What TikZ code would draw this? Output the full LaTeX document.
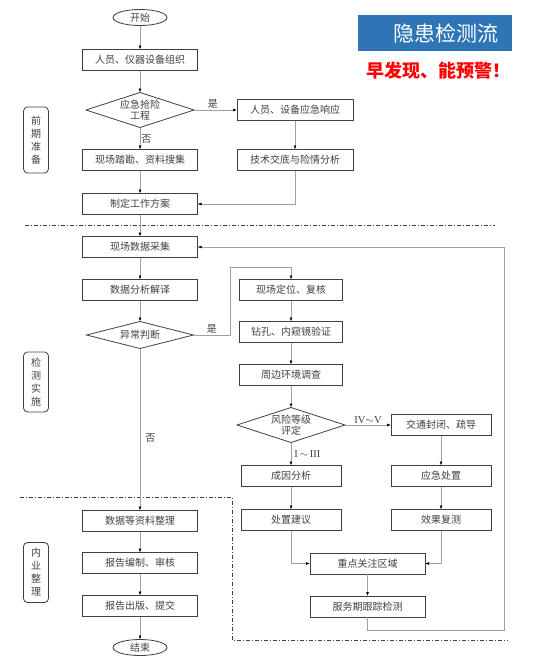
\documentclass[tikz,border=0pt]{standalone}
\usepackage{fontspec}
\setmainfont{Noto Sans CJK SC}
\newfontfamily\serifnum{Liberation Serif}
\usepackage{xcolor}
\usetikzlibrary{arrows.meta,positioning,shapes.geometric}
\definecolor{boxline}{HTML}{404040}
\definecolor{linkgray}{HTML}{A0A0A0}
\definecolor{titleblue}{HTML}{2E75B6}

\begin{document}
\begin{tikzpicture}[x=1pt, y=-1pt, font=\fontsize{10}{12}\selectfont, >=Latex, text=boxline,
  box/.style={draw=boxline, line width=0.8pt, outer sep=0pt, minimum height=21pt, inner xsep=2pt, inner ysep=0pt, text height=8.5pt, text depth=1.5pt},
  dia/.style={draw=boxline, line width=0.8pt, outer sep=0pt, diamond, aspect=3, inner sep=0pt, align=center, font=\fontsize{10}{11}\selectfont},
  term/.style={draw=boxline, ellipse, line width=0.8pt, outer sep=0pt, minimum width=54pt, minimum height=16pt, inner sep=0pt, text height=8.5pt, text depth=1.5pt},
  sidebox/.style={draw=boxline, rounded corners=4pt, line width=0.8pt, minimum width=25pt, align=center, font=\fontsize{10}{13}\selectfont},
  link/.style={draw=linkgray, line width=0.6pt, -{Latex[length=4pt, width=3pt, color=black]}},
  cutline/.style={draw=boxline, line width=0.9pt, dash pattern=on 4pt off 2pt on 1pt off 2pt},
  lab/.style={inner sep=1pt},
  numlab/.style={inner sep=1pt, font=\serifnum\fontsize{10.5}{12}\selectfont}]
  \useasboundingbox (0,0) rectangle (554,664);

  % Title
  \node[fill=titleblue, text=white, minimum height=36pt, text width=126pt, inner xsep=14pt, align=right, font=\fontsize{21}{23}\selectfont] (title) at (435,33) {隐患检测流};
  \node[text=red, font=\bfseries\fontsize{18}{20}\selectfont] (slogan) at (438.5,71) {早发现、能预警！};

  % Stages
  \node[sidebox, minimum height=66pt] (prep) at (36,140) {前\\期\\准\\备};
  \node[sidebox, minimum height=60pt] (exec) at (36,382) {检\\测\\实\\施};
  \node[sidebox, minimum height=60pt] (office) at (36,572.5) {内\\业\\整\\理};

  % Main column
  \node[term] (start) at (140,17.5) {开始};
  \node[box, minimum width=115pt, below=24pt of start] (org) {人员、仪器设备组织};
  \node[dia, minimum width=108pt, minimum height=35pt, below=22pt of org] (q1) {应急抢险\\工程};
  \node[box, minimum width=115pt, below=22pt of q1] (survey) {现场踏勘、资料搜集};
  \node[box, minimum width=115pt, below=23pt of survey] (plan) {制定工作方案};
  \node[box, minimum width=115pt, below=22pt of plan] (collect) {现场数据采集};
  \node[box, minimum width=115pt, below=22pt of collect] (interp) {数据分析解译};
  \node[dia, minimum width=107pt, minimum height=27pt, below=21pt of interp] (q2) {异常判断};
  \node[box, minimum width=115pt, below=162pt of q2] (sort) {数据等资料整理};
  \node[box, minimum width=115pt, below=21pt of sort] (draft) {报告编制、审核};
  \node[box, minimum width=115pt, below=22pt of draft] (issue) {报告出版、提交};
  \node[term, below=23pt of issue] (stop) {结束};

  % Emergency branch
  \node[box, minimum width=116pt, right=43pt of q1] (resp) {人员、设备应急响应};
  \node[box, minimum width=116pt, below=29pt of resp] (brief) {技术交底与险情分析};

  % Anomaly branch
  \node[box, minimum width=103pt, right=42pt of interp] (locate) {现场定位、复核};
  \node[box, minimum width=103pt, below=21pt of locate] (drill) {钻孔、内窥镜验证};
  \node[box, minimum width=103pt, below=22pt of drill] (env) {周边环境调查};
  \node[dia, minimum width=108pt, minimum height=35pt, below=22pt of env] (q3) {风险等级\\评定};
  \node[box, minimum width=100pt, below=23pt of q3] (cause) {成因分析};
  \node[box, minimum width=100pt, below=23pt of cause] (advise) {处置建议};
  \node[box, minimum width=100pt, right=46pt of q3] (traffic) {交通封闭、疏导};
  \node[box, minimum width=100pt, below=30pt of traffic] (emerg) {应急处置};
  \node[box, minimum width=100pt, below=23pt of emerg] (effect) {效果复测};
  \node[box, minimum width=115pt] (focus) at (367.5,563.5) {重点关注区域};
  \node[box, minimum width=115pt, below=22pt of focus] (track) {服务期跟踪检测};

  % Separators
  \draw[cutline] (25,225.7) -- (495,225.7);
  \draw[cutline] (20,497) -- (232,497) -- (232,640) -- (508,640);

  % Arrows
  \coordinate (k1) at (230,267.7);
  \coordinate (k2) at (504,630);
  \draw[link] (start) -- (org);
  \draw[link] (org) -- (q1);
  \draw[link] (q1) -- node[lab, right, pos=0.5] {否} (survey);
  \draw[link] (q1) -- node[lab, above, pos=0.44] {是} (resp);
  \draw[link] (resp) -- (brief);
  \draw[link] (brief) |- (plan);
  \draw[link] (survey) -- (plan);
  \draw[link] (plan) -- (collect);
  \draw[link] (collect) -- (interp);
  \draw[link] (interp) -- (q2);
  \draw[link] (q2) -| node[lab, above, pos=0.25] {是} (k1) -| (locate);
  \draw[link] (q2) -- node[lab, right=4pt, pos=0.55] {否} (sort);
  \draw[link] (locate) -- (drill);
  \draw[link] (drill) -- (env);
  \draw[link] (env) -- (q3);
  \draw[link] (q3) -- node[numlab, right=2pt] {I\,$\sim$\,III} (cause);
  \draw[link] (q3) -- node[numlab, above] {IV$\sim$V} (traffic);
  \draw[link] (traffic) -- (emerg);
  \draw[link] (emerg) -- (effect);
  \draw[link] (cause) -- (advise);
  \draw[link] (advise) |- (focus);
  \draw[link] (effect) |- (focus);
  \draw[link] (focus) -- (track);
  \draw[link] (track) |- (k2) |- (collect);
  \draw[link] (sort) -- (draft);
  \draw[link] (draft) -- (issue);
  \draw[link] (issue) -- (stop);
\end{tikzpicture}
\end{document}
